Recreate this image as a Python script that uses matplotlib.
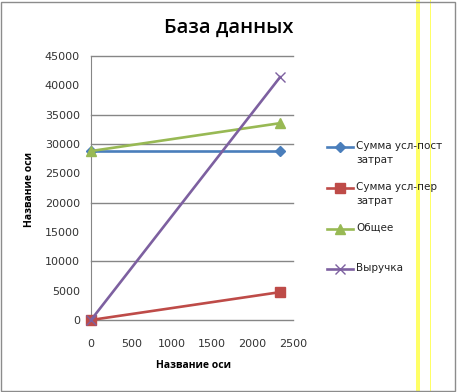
import matplotlib
matplotlib.use("Agg")
import matplotlib.pyplot as plt
from matplotlib.lines import Line2D
from matplotlib.patches import Rectangle

# data
x_vals = [0, 2340]
post = [28800, 28800]       # Сумма усл-пост затрат
per = [0, 4750]             # Сумма усл-пер затрат
total = [28800, 33550]      # Общее
revenue = [0, 41400]        # Выручка

series = [
    (post, "#4a7ebb", "D", 5, "Сумма усл-пост\nзатрат"),
    (per, "#be4b48", "s", 7.5, "Сумма усл-пер\nзатрат"),
    (total, "#98b954", "^", 7, "Общее"),
    (revenue, "#7d60a0", "x", 7, "Выручка"),
]
grid_vals = [0, 10000, 20000, 30000, 35000, 45000]

W, H = 457, 392
fig = plt.figure(figsize=(W / 100, H / 100), dpi=100)
ax = fig.add_axes([91 / W, 1 - 320 / H, (293 - 91) / W, (320 - 56) / H])

for ys, col, mk, ms, lab in series:
    ax.plot(x_vals, ys, color=col, lw=1.9, marker=mk, ms=ms, mew=1.0,
            mfc=col, mec=col, clip_on=False, zorder=3)

for g in grid_vals:
    ax.axhline(g, color="#868686", lw=1.0, zorder=1, clip_on=False)

ax.set_xlim(0, 2500)
ax.set_ylim(0, 45000)
ax.set_xticks(range(0, 2501, 500))
ax.set_yticks(range(0, 45001, 5000))
for s in ["top", "right", "bottom"]:
    ax.spines[s].set_visible(False)
ax.spines["left"].set_color("#868686")
ax.tick_params(length=0, labelsize=8, colors="#333333")
ax.tick_params(axis="x", pad=14)
ax.tick_params(axis="y", pad=8)

fig.text(229 / W, 1 - 28 / H, "База данных", ha="center", va="center",
         fontsize=14.5, family="Open Sans", fontweight="semibold")
fig.text(193 / W, 1 - 366 / H, "Название оси", ha="center", va="center",
         fontsize=7.5, family="Open Sans", fontweight="bold")
fig.text(30 / W, 1 - 190 / H, "Название оси", ha="center", va="center",
         fontsize=7.5, family="Open Sans", fontweight="bold", rotation=90)

# legend drawn by hand so the marker sits on the first text line
leg_y = [147, 188, 229, 269]
for (ys, col, mk, ms, lab), yy in zip(series, leg_y):
    fy = 1 - yy / H
    fig.add_artist(Line2D([327 / W, 353 / W], [fy, fy], color=col, lw=1.9))
    fig.add_artist(Line2D([340 / W], [fy], color=col, marker=mk, ms=ms, mfc=col, mec=col, lw=0))
    fig.text(356 / W, fy + 6 / H, lab, ha="left", va="top", fontsize=7.5,
             color="#222222", linespacing=1.5)

# yellow stripes and chart border from the screenshot
fig.add_artist(Rectangle((416 / W, 0), 4 / W, 1, color="#ffff66", lw=0))
fig.add_artist(Rectangle((430 / W, 0), 1 / W, 1, color="#ffff66", lw=0))
fig.add_artist(Rectangle((0.5 / W, 1.5 / H), 454 / W, 389 / H, fill=False,
                         ec="#8c8c8c", lw=1.0))

fig.savefig("out.png", dpi=100)
